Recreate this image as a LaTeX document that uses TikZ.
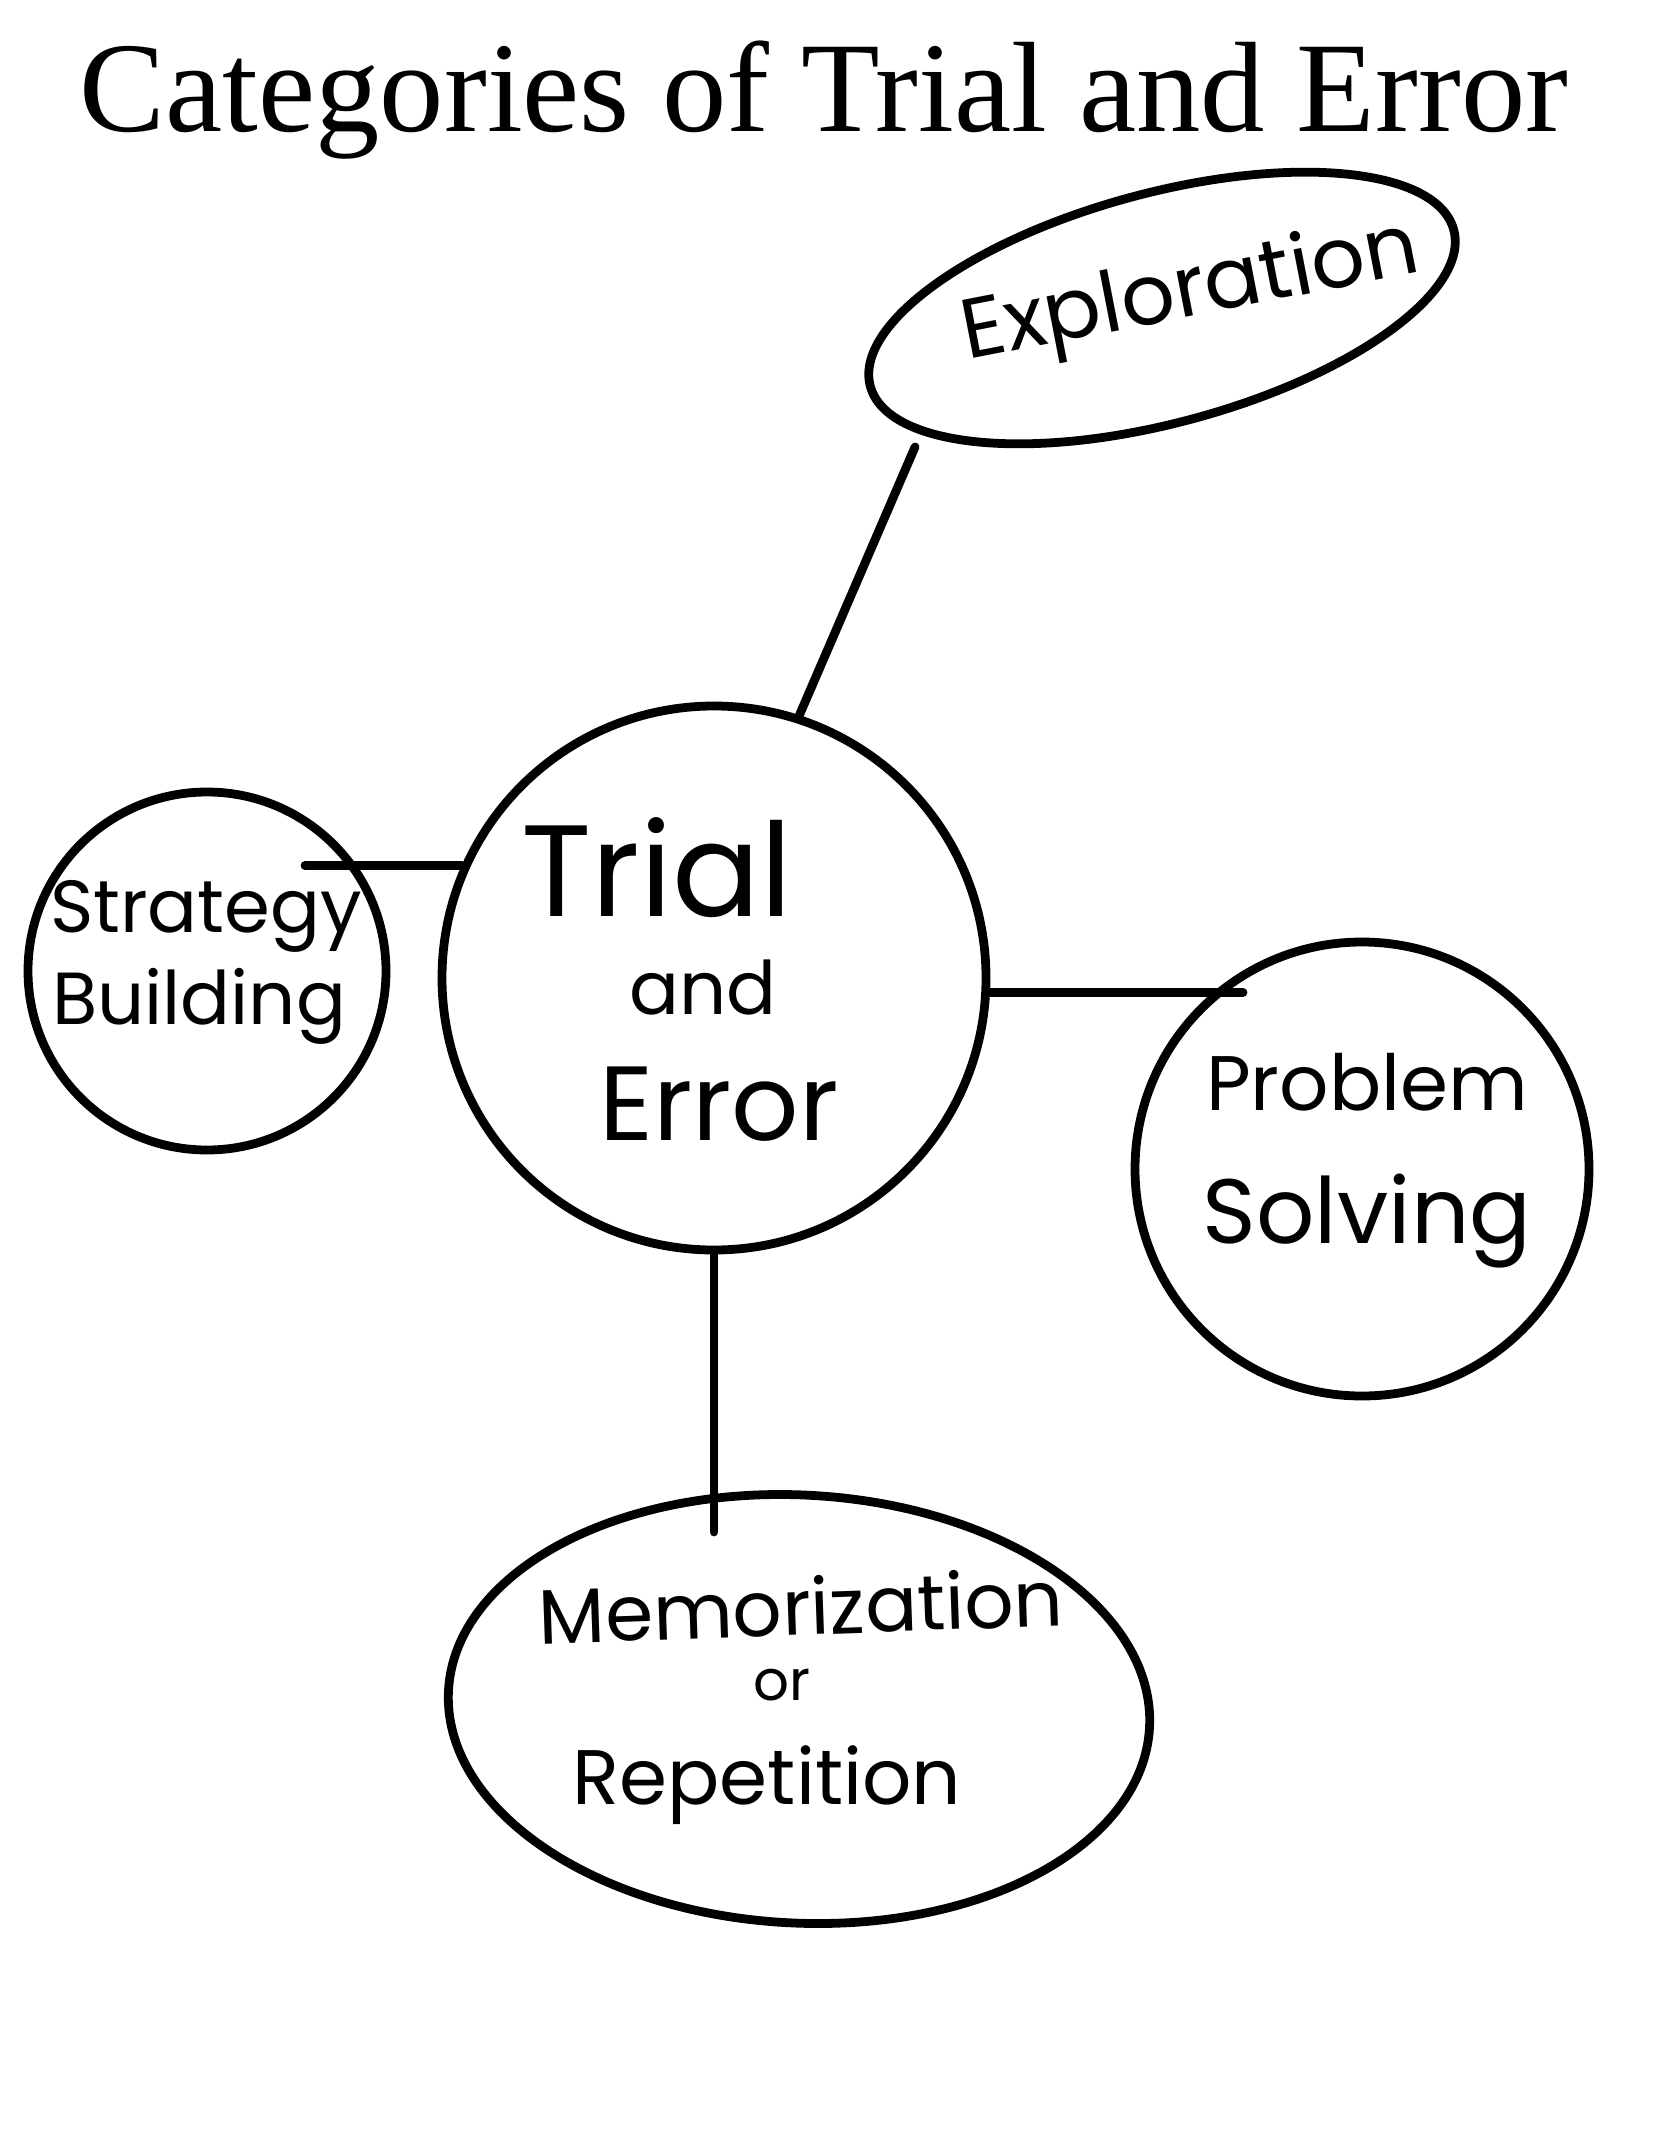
\documentclass[tikz,border=0pt]{standalone}
\usepackage{fontspec}
\setmainfont{Liberation Serif}
\newfontfamily\handfont{Poppins}
\usetikzlibrary{shapes.geometric}

\begin{document}
\begin{tikzpicture}[
    bubble/.style = {draw, circle, line width = 2.5pt, inner sep = 0pt},
    oval/.style = {draw, ellipse, line width = 2.5pt, inner sep = 0pt},
    hand/.style = {font = \handfont\fontsize{#1}{#1}\selectfont, anchor = base, inner sep = 0pt},
    link/.style = {line width = 2.5pt, line cap = round}
  ]
  \useasboundingbox (0,0) rectangle (16.68,-21.54);

  \node[anchor = base, font = \fontsize{36.6}{40}\selectfont] (title) at (8.24,-1.32) {Categories of Trial and Error};

  \node[bubble, minimum size = 5.44cm] (main) at (7.14,-9.78) {};
  \node[bubble, minimum size = 3.58cm] (strat) at (2.07,-9.71) {};
  \node[bubble, minimum size = 4.54cm] (prob) at (13.62,-11.69) {};
  \node[oval, minimum width = 6.04cm, minimum height = 2.30cm, rotate = 15] (explo) at (11.62,-3.08) {};
  \node[oval, minimum width = 7.02cm, minimum height = 4.28cm, rotate = -3] (memo) at (7.99,-17.09) {};

  \node[hand = 37] (trial) at (6.57,-9.16) {Trial};
  \node[hand = 21] (and) at (7.03,-10.14) {and};
  \node[hand = 30] (error) at (7.19,-11.40) {Error};

  \node[hand = 21] (strategy) at (2.06,-9.32) {Strategy};
  \node[hand = 21] (building) at (1.99,-10.24) {Building};

  \node[hand = 22] (problem) at (13.67,-11.10) {Problem};
  \node[hand = 26] (solving) at (13.67,-12.43) {Solving};

  \node[hand = 24, anchor = center, rotate = 11] (exploration) at (11.91,-2.95) {Exploration};

  \node[hand = 22, rotate = 2] (memorization) at (8.02,-16.35) {Memorization};
  \node[hand = 16] (or) at (7.82,-17.00) {or};
  \node[hand = 22] (repetition) at (7.67,-18.04) {Repetition};

  \coordinate (ex-tip) at (9.15,-4.47);
  \coordinate (sb-tip) at (3.05,-8.66);
  \coordinate (ps-tip) at (12.43,-9.91);
  \coordinate (mr-tip) at (7.16,-15.32);

  \draw[link] (main.72) -- (ex-tip);
  \draw[link] (main.156) -- (main.156 -| sb-tip);
  \draw[link] (main.-3) -- (main.-3 -| ps-tip);
  \draw[link] (main.south) -- (main.south |- mr-tip);
\end{tikzpicture}
\end{document}
